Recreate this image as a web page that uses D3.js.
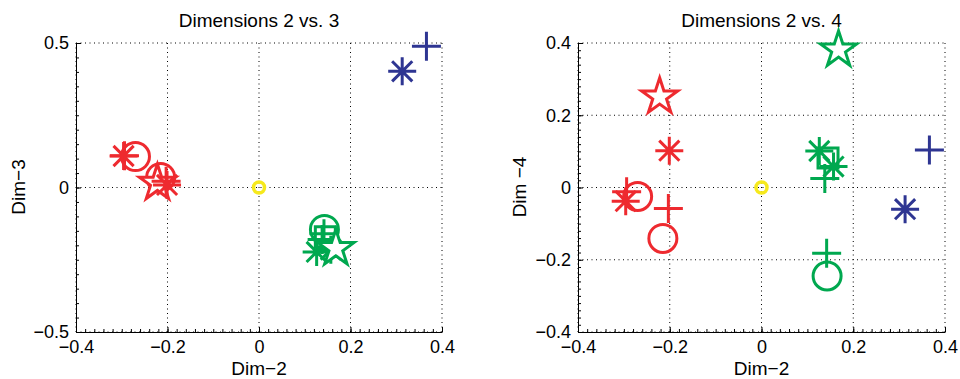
<!DOCTYPE html>
<meta charset="utf-8">
<style>
    body { margin: 0; background: #fff; }
    svg { display: block; }
    text { font-family: "Liberation Sans", Arial, sans-serif; }
</style>
<svg width="960" height="379"></svg>
<script src="https://cdn.jsdelivr.net/npm/d3@7"></script>
<script>

// points: group colour, marker shape, and coordinates on dims 2, 3 and 4
var groups = ["red", "red", "red", "red", "red", "red", "red",
              "green", "green", "green", "green", "green", "green", "green",
              "blue", "blue", "yellow"];
var shapes = ["plus", "asterisk", "circle", "circle", "star", "plus", "asterisk",
              "circle", "plus", "plus", "square", "asterisk", "asterisk", "star",
              "plus", "asterisk", "dot"];
var dim2 = [-0.294, -0.296, -0.270, -0.215, -0.222, -0.203, -0.201,
             0.143, 0.142, 0.138, 0.145, 0.126, 0.157, 0.168,
             0.366, 0.313, 0.0];
var dim3 = [0.110, 0.109, 0.107, 0.035, 0.015, 0.022, 0.009,
           -0.145, -0.160, -0.180, -0.170, -0.223, -0.215, -0.211,
            0.489, 0.402, 0.0];
var dim4 = [-0.012, -0.038, -0.025, -0.141, 0.251, -0.058, 0.102,
            -0.245, -0.182, 0.025, 0.082, 0.101, 0.058, 0.381,
             0.104, -0.060, 0.0];

var xTicks = [-0.4, -0.2, 0, 0.2, 0.4];
var xTickLabels = ["\u22120.4", "\u22120.2", "0", "0.2", "0.4"];
var y3Ticks = [-0.5, 0, 0.5];
var y3TickLabels = ["\u22120.5", "0", "0.5"];
var y4Ticks = [-0.4, -0.2, 0, 0.2, 0.4];
var y4TickLabels = ["\u22120.4", "\u22120.2", "0", "0.2", "0.4"];

var colors = { red: "#ee2a2f", green: "#00a84f", blue: "#2e3592", yellow: "#f6e91c" };

var svg = d3.select("svg");

function markerPath(shape) {
    var p = d3.path();
    if (shape == "plus") {
        var s = 14.5;
        p.moveTo(-s, 0); p.lineTo(s, 0);
        p.moveTo(0, -s); p.lineTo(0, s);
    } else if (shape == "asterisk") {
        var s = 14, d = s * 0.72;
        p.moveTo(-s, 0); p.lineTo(s, 0);
        p.moveTo(0, -s); p.lineTo(0, s);
        p.moveTo(-d, -d); p.lineTo(d, d);
        p.moveTo(-d, d); p.lineTo(d, -d);
    } else if (shape == "circle") {
        p.arc(0, 0, 14, 0, 2 * Math.PI);
    } else if (shape == "dot") {
        p.arc(0, 0, 5.5, 0, 2 * Math.PI);
    } else if (shape == "square") {
        p.rect(-10, -10, 20, 20);
    } else if (shape == "star") {
        var R = 19, r = R * 0.382;
        for (var i = 0; i < 10; i++) {
            var a = -Math.PI / 2 + i * Math.PI / 5, rr = i % 2 ? r : R;
            if (i == 0) p.moveTo(rr * Math.cos(a), rr * Math.sin(a));
            else p.lineTo(rr * Math.cos(a), rr * Math.sin(a));
        }
        p.closePath();
    }
    return p.toString();
}

function panel(opt) {
    var x = d3.scaleLinear().domain([-0.4, 0.4]).range([opt.left, opt.right]);
    var y = d3.scaleLinear().domain(opt.yDomain).range([332, 43]);
    var g = svg.append("g");

    // dotted grid
    g.append("g").selectAll("line").data(xTicks).enter().append("line")
        .attr("x1", x).attr("x2", x).attr("y1", y.range()[0]).attr("y2", y.range()[1])
        .attr("stroke", "#000").attr("stroke-width", 1).attr("stroke-dasharray", "1,3.5");
    g.append("g").selectAll("line").data(opt.yTicks).enter().append("line")
        .attr("y1", y).attr("y2", y).attr("x1", opt.left).attr("x2", opt.right)
        .attr("stroke", "#000").attr("stroke-width", 1).attr("stroke-dasharray", "1,3.5");

    // minor ticks
    g.append("g").attr("transform", "translate(0,332)")
        .call(d3.axisBottom(x).tickValues(d3.range(-0.4, 0.4001, 0.02)).tickSize(-3).tickFormat(""))
        .call(function (a) { a.select(".domain").remove(); });
    g.append("g").attr("transform", "translate(" + opt.left + ",0)")
        .call(d3.axisLeft(y).tickValues(d3.range(opt.yDomain[0], opt.yDomain[1] + 1e-6, opt.yMinor)).tickSize(-3).tickFormat(""))
        .call(function (a) { a.select(".domain").remove(); });

    // axes
    var xa = g.append("g").attr("transform", "translate(0,332)")
        .call(d3.axisBottom(x).tickValues(xTicks).tickSizeInner(-5).tickSizeOuter(0).tickPadding(8)
            .tickFormat(function (d, i) { return xTickLabels[i]; }));
    var ya = g.append("g").attr("transform", "translate(" + opt.left + ",0)")
        .call(d3.axisLeft(y).tickValues(opt.yTicks).tickSizeInner(-5).tickSizeOuter(0).tickPadding(7)
            .tickFormat(function (d, i) { return opt.yTickLabels[i]; }));
    [xa, ya].forEach(function (a) {
        a.selectAll("text").attr("font-size", 18).attr("fill", "#000")
            .attr("font-family", "'Liberation Sans', Arial, sans-serif");
        a.selectAll("line, path").attr("stroke", "#000");
    });

    // titles
    var cx = (opt.left + opt.right) / 2;
    g.append("text").attr("x", cx).attr("y", 27).attr("text-anchor", "middle")
        .attr("font-size", 19).text(opt.title);
    g.append("text").attr("x", cx).attr("y", 375).attr("text-anchor", "middle")
        .attr("font-size", 19).text("Dim\u22122");
    g.append("text").attr("transform", "translate(" + opt.ylabelX + ",187)rotate(-90)")
        .attr("text-anchor", "middle").attr("font-size", 19).text(opt.ylabel);

    // markers
    g.append("g").selectAll("path").data(dim2).enter().append("path")
        .attr("transform", function (d, i) { return "translate(" + x(d) + "," + y(opt.yValues[i]) + ")"; })
        .attr("d", function (d, i) { return markerPath(shapes[i]); })
        .attr("fill", function (d, i) { return shapes[i] == "star" ? "#fff" : "none"; })
        .attr("stroke", function (d, i) { return colors[groups[i]]; })
        .attr("stroke-width", function (d, i) { return shapes[i] == "dot" ? 3.5 : 3; });
}

panel({ left: 76, right: 442, yDomain: [-0.5, 0.5], yTicks: y3Ticks, yTickLabels: y3TickLabels,
        yMinor: 0.05, yValues: dim3, title: "Dimensions 2 vs. 3", ylabel: "Dim\u22123", ylabelX: 25 });
panel({ left: 578, right: 945, yDomain: [-0.4, 0.4], yTicks: y4Ticks, yTickLabels: y4TickLabels,
        yMinor: 0.02, yValues: dim4, title: "Dimensions 2 vs. 4", ylabel: "Dim \u22124", ylabelX: 526 });

</script>
